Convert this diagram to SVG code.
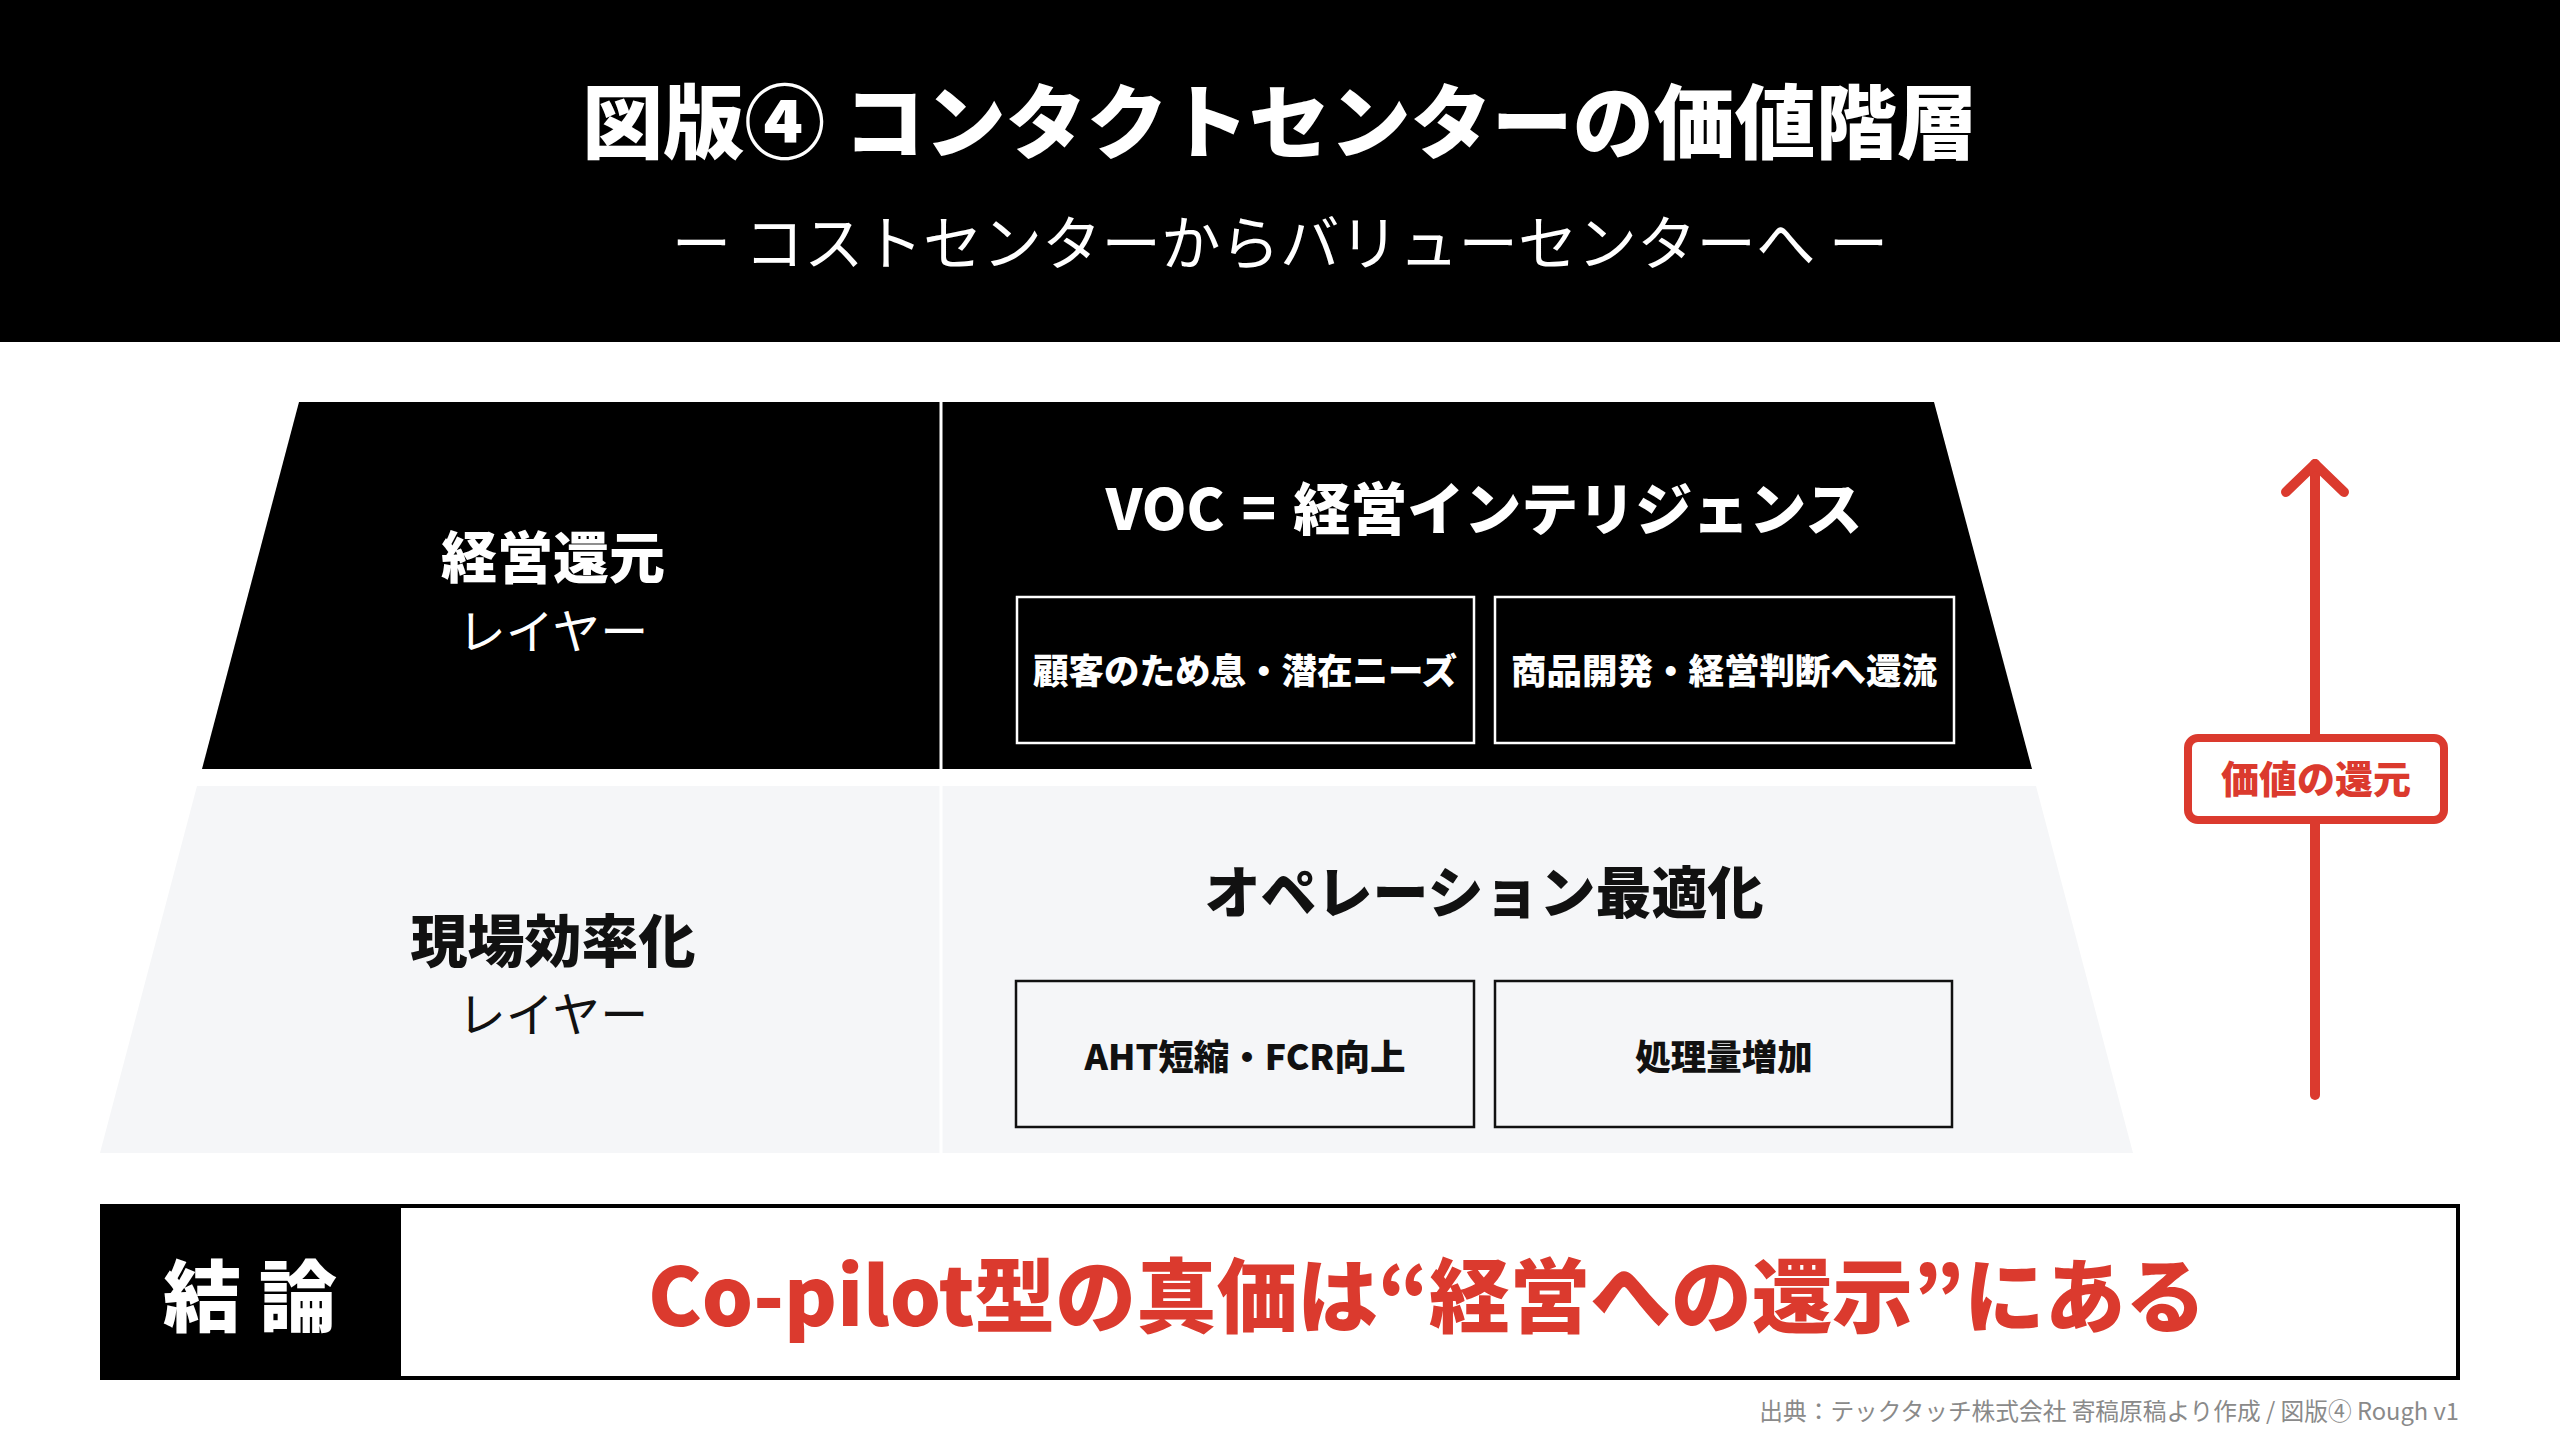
<svg xmlns="http://www.w3.org/2000/svg" width="2560" height="1440" viewBox="0 0 2560 1440">
<defs>
<style>
text{font-family:"Noto Sans CJK JP","Noto Sans",sans-serif;text-anchor:middle}
.b{font-weight:900}
.w{fill:#ffffff}
.d{fill:#111111}
.r{fill:#db3a2e}
.sub{fill:none;stroke:#ffffff;stroke-width:2.5}
.subd{fill:#f5f6f8;stroke:#111111;stroke-width:2.5}
</style>
</defs>
<rect width="2560" height="1440" fill="#ffffff"/>
<g id="header">
<rect x="0" y="0" width="2560" height="342" fill="#000000"/>
<text x="1280" y="152" font-size="81" class="b w">図版④ コンタクトセンターの価値階層</text>
<text x="1280" y="265" font-size="59.5" class="w">ー コストセンターからバリューセンターへ ー</text>
</g>
<g id="layer-top">
<polygon points="299,402 1934,402 2032,769 202,769" fill="#000000"/>
<line x1="941" y1="402" x2="941" y2="769" stroke="#ffffff" stroke-width="3"/>
<text x="553" y="578" font-size="56" class="b w">経営還元</text>
<text x="553" y="649" font-size="48" class="w">レイヤー</text>
<text x="1484" y="530" font-size="57" class="b w">VOC <tspan dx="4">=</tspan><tspan dx="4"> 経営インテリジェンス</tspan></text>
</g>
<g id="box-voc1">
<rect x="1017" y="597" width="457" height="146" class="sub"/>
<text x="1245" y="684" font-size="35.5" class="b w">顧客のため息・潜在ニーズ</text>
</g>
<g id="box-voc2">
<rect x="1495" y="597" width="459" height="146" class="sub"/>
<text x="1724" y="684" font-size="35.5" class="b w">商品開発・経営判断へ還流</text>
</g>
<g id="layer-bottom">
<polygon points="197,786 2036,786 2133,1153 100,1153" fill="#f5f6f8"/>
<line x1="941" y1="786" x2="941" y2="1153" stroke="#ffffff" stroke-width="3"/>
<text x="553" y="962" font-size="57" class="b d">現場効率化</text>
<text x="553" y="1032" font-size="48" class="d">レイヤー</text>
<text x="1484" y="913" font-size="56" class="b d">オペレーション最適化</text>
</g>
<g id="box-op1">
<rect x="1016" y="981" width="458" height="146" class="subd"/>
<text x="1245" y="1070" font-size="35.5" class="b d">AHT短縮・FCR向上</text>
</g>
<g id="box-op2">
<rect x="1495" y="981" width="457" height="146" class="subd"/>
<text x="1724" y="1070" font-size="35.5" class="b d">処理量増加</text>
</g>
<g id="connectors" fill="none" stroke="#db3a2e" stroke-width="10" stroke-linecap="round" stroke-linejoin="round">
<line x1="2315" y1="1095" x2="2315" y2="464"/>
<polyline points="2286,492 2315,464 2344,492"/>
</g>
<g id="label-value">
<rect x="2188" y="738" width="256" height="82" rx="10" fill="#ffffff" stroke="#db3a2e" stroke-width="8"/>
<text x="2316" y="793" font-size="38" class="b r">価値の還元</text>
</g>
<g id="conclusion">
<rect x="102" y="1206" width="2356" height="172" fill="#ffffff" stroke="#000000" stroke-width="4"/>
<rect x="100" y="1204" width="301" height="176" fill="#000000"/>
<text x="250" y="1326" font-size="78" class="b w">結 論</text>
<text x="1427" y="1326" font-size="80.7" class="b r">Co-pilot型の真価は“経営への還示”にある</text>
</g>
<g id="footer">
<text x="2459" y="1420" font-size="23.7" fill="#8a8a8a" style="text-anchor:end">出典：テックタッチ株式会社 寄稿原稿より作成 / 図版④ Rough v1</text>
</g>
</svg>
